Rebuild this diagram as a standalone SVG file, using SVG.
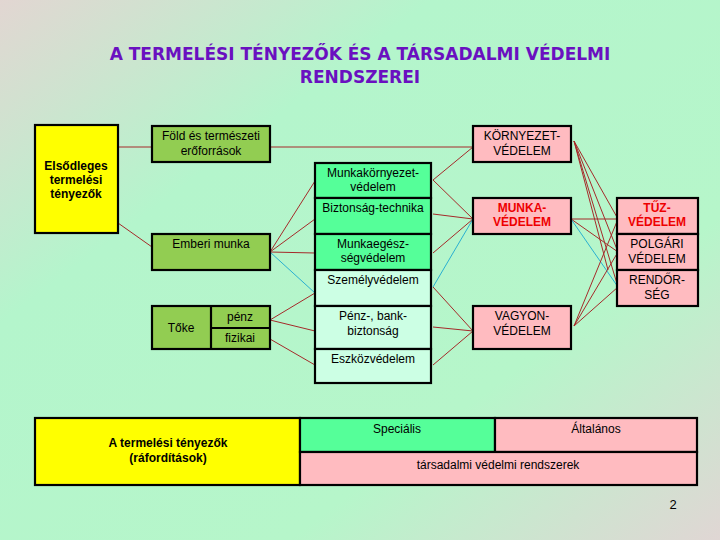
<svg xmlns="http://www.w3.org/2000/svg" width="720" height="540" viewBox="0 0 720 540">
<defs>
<linearGradient id="bg" x1="0" y1="0" x2="1" y2="1">
<stop offset="0" stop-color="#e2d6d2"/><stop offset="0.3" stop-color="#b4f5cc"/><stop offset="0.7" stop-color="#b6f6ca"/><stop offset="1" stop-color="#e0d6d4"/>
</linearGradient>
<style>
.b{stroke:#000;stroke-width:2.2}
.y{fill:#ffff00}.g{fill:#92cd52}.m{fill:#55ff99}.l{fill:#ccffe4}.p{fill:#ffbbc0}
text{font-family:"Liberation Sans",Arial,sans-serif;font-size:12px;text-anchor:middle;fill:#000}
.bd{font-weight:bold}.r{fill:#ee0000;font-weight:bold}
.t{font-family:"DejaVu Sans",sans-serif;font-size:17px;font-weight:bold;fill:#6a10c0}
.c line{stroke:#a52a2a;stroke-width:1}
.c line.cy{stroke:#2ab0d0}
</style>
</defs>
<rect width="720" height="540" fill="url(#bg)"/>
<g id="title">
<text class="t" x="360" y="60">A TERMELÉSI TÉNYEZŐK ÉS A TÁRSADALMI VÉDELMI</text>
<text class="t" x="360" y="83">RENDSZEREI</text>
</g>
<g class="c" id="connectors">
<line x1="118" y1="147" x2="152" y2="147"/>
<line x1="270" y1="147" x2="473" y2="147"/>
<line x1="118" y1="223" x2="152" y2="247"/>
<line x1="270" y1="252" x2="315" y2="181"/>
<line x1="270" y1="252" x2="315" y2="219"/>
<line x1="270" y1="252" x2="315" y2="253"/>
<line class="cy" x1="270" y1="252" x2="315" y2="293"/>
<line x1="270" y1="320" x2="315" y2="293"/>
<line x1="270" y1="320" x2="315" y2="331"/>
<line x1="270" y1="339" x2="315" y2="365"/>
<line x1="433" y1="180" x2="473" y2="147"/>
<line x1="433" y1="180" x2="473" y2="219"/>
<line x1="433" y1="214" x2="473" y2="219"/>
<line x1="433" y1="253" x2="473" y2="219"/>
<line class="cy" x1="433" y1="287" x2="473" y2="219"/>
<line x1="433" y1="287" x2="473" y2="331"/>
<line x1="433" y1="327" x2="473" y2="331"/>
<line x1="433" y1="365" x2="473" y2="331"/>
<line x1="574" y1="141" x2="618" y2="219"/>
<line x1="574" y1="141" x2="618" y2="252"/>
<line x1="574" y1="141" x2="618" y2="287"/>
<line x1="574" y1="141" x2="608" y2="270"/>
<line x1="571" y1="219" x2="618" y2="219"/>
<line x1="571" y1="219" x2="618" y2="252"/>
<line class="cy" x1="571" y1="219" x2="618" y2="287"/>
<line x1="574" y1="326" x2="618" y2="219"/>
<line x1="574" y1="326" x2="618" y2="252"/>
<line x1="574" y1="326" x2="618" y2="287"/>
</g>
<g id="elsodleges"><rect class="y b" x="35" y="125" width="83" height="108"/>
<text class="bd" x="76" y="170">Elsődleges</text><text class="bd" x="76" y="184">termelési</text><text class="bd" x="76" y="198">tényezők</text></g>
<g id="fold"><rect class="g b" x="152" y="126" width="118" height="36"/>
<text x="211" y="140">Föld és természeti</text><text x="211" y="155">erőforrások</text></g>
<g id="emberi"><rect class="g b" x="152" y="234" width="118" height="36"/>
<text x="211" y="248">Emberi munka</text></g>
<g id="toke"><rect class="g b" x="152" y="306" width="118" height="43"/>
<line class="b" x1="211" y1="306" x2="211" y2="349"/><line class="b" x1="211" y1="328" x2="270" y2="328"/>
<text x="181" y="332">Tőke</text><text x="240" y="321">pénz</text><text x="240" y="342">fizikai</text></g>
<g id="oszlop">
<rect class="m b" x="315" y="163" width="116" height="35"/><text x="373" y="177">Munkakörnyezet-</text><text x="373" y="191">védelem</text>
<rect class="m b" x="315" y="198" width="116" height="36"/><text x="373" y="212">Biztonság-technika</text>
<rect class="m b" x="315" y="234" width="116" height="36"/><text x="373" y="248">Munkaegész-</text><text x="373" y="262">ségvédelem</text>
<rect class="l b" x="315" y="270" width="116" height="36"/><text x="373" y="284">Személyvédelem</text>
<rect class="l b" x="315" y="306" width="116" height="43"/><text x="373" y="320">Pénz-, bank-</text><text x="373" y="335">biztonság</text>
<rect class="l b" x="315" y="349" width="116" height="34"/><text x="373" y="363">Eszközvédelem</text>
</g>
<g id="kornyezet"><rect class="p b" x="473" y="126" width="98" height="36"/><text x="522" y="140">KÖRNYEZET-</text><text x="522" y="155">VÉDELEM</text></g>
<g id="munkavedelem"><rect class="p b" x="473" y="198" width="98" height="36"/><text class="r" x="522" y="212">MUNKA-</text><text class="r" x="522" y="226">VÉDELEM</text></g>
<g id="vagyon"><rect class="p b" x="473" y="306" width="98" height="43"/><text x="522" y="320">VAGYON-</text><text x="522" y="335">VÉDELEM</text></g>
<g id="jobb">
<rect class="p b" x="617" y="198" width="81" height="36"/><text class="r" x="657" y="212">TŰZ-</text><text class="r" x="657" y="226">VÉDELEM</text>
<rect class="p b" x="617" y="234" width="81" height="36"/><text x="657" y="248">POLGÁRI</text><text x="657" y="263">VÉDELEM</text>
<rect class="p b" x="617" y="270" width="81" height="36"/><text x="657" y="284">RENDŐR-</text><text x="657" y="299">SÉG</text>
</g>
<g id="also">
<rect class="y b" x="35" y="418" width="265" height="67"/>
<text class="bd" x="168" y="447">A termelési tényezők</text><text class="bd" x="168" y="462">(ráfordítások)</text>
<rect class="m b" x="300" y="418" width="195" height="34"/><text x="397" y="433">Speciális</text>
<rect class="p b" x="495" y="418" width="202" height="34"/><text x="596" y="433">Általános</text>
<rect class="p b" x="300" y="452" width="397" height="33"/><text x="498" y="469">társadalmi védelmi rendszerek</text>
</g>
<text x="673" y="509" style="font-size:13px">2</text>
</svg>
